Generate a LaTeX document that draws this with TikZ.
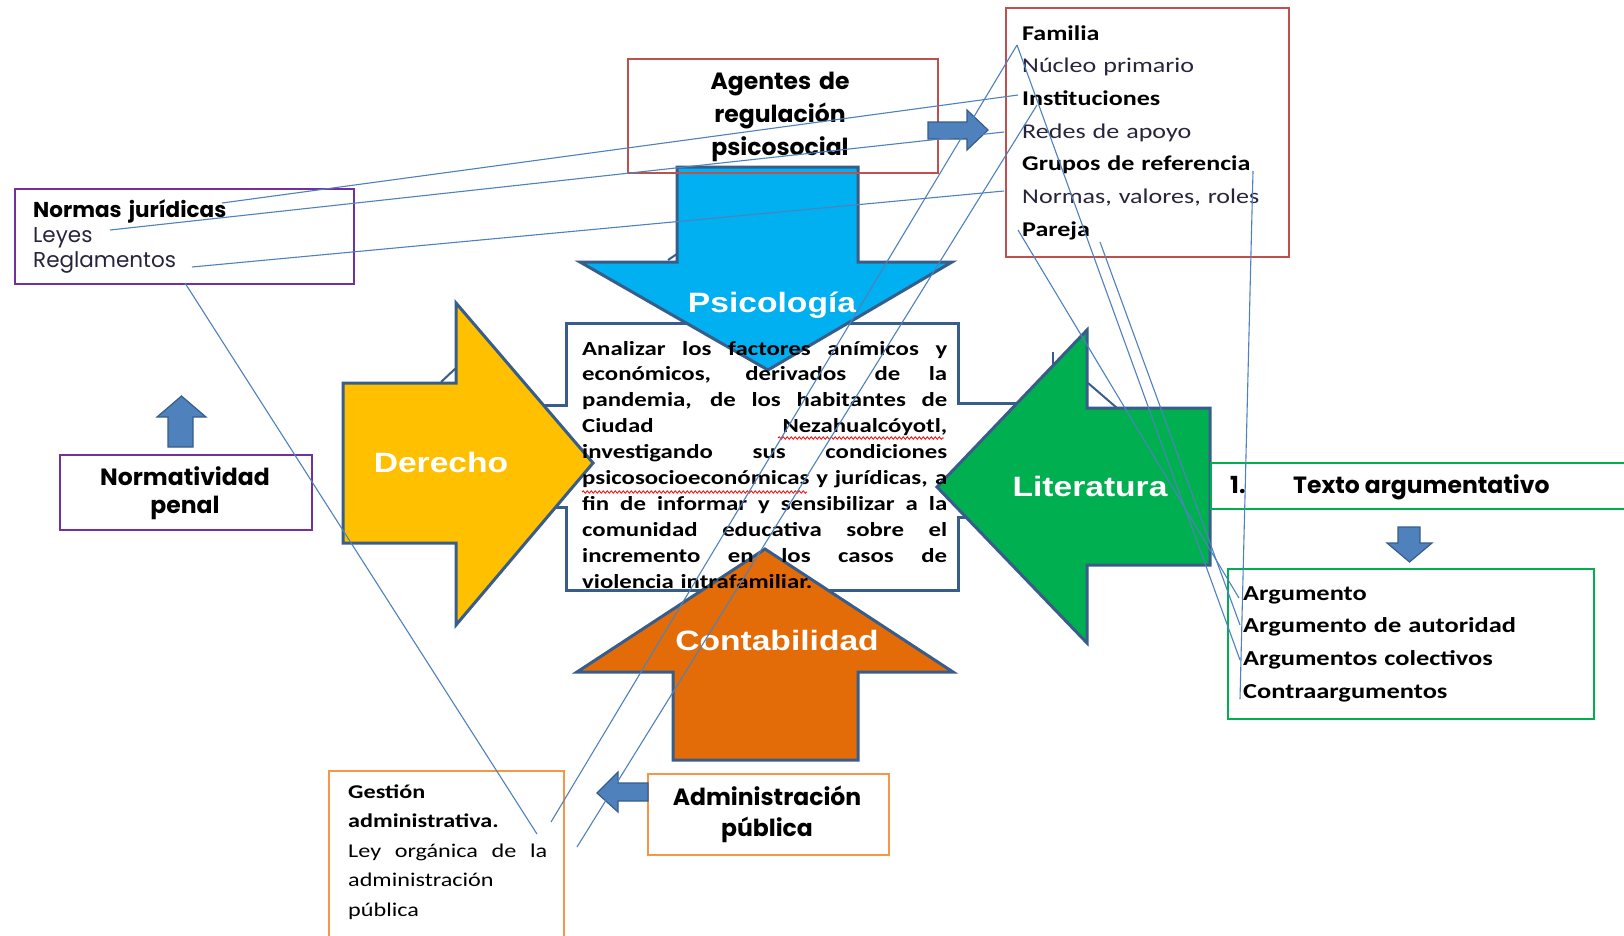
\documentclass[tikz,border=0pt]{standalone}
\usepackage{fontspec}
\setmainfont{Carlito}
\newfontfamily\calfont[FakeStretch=1.24]{Carlito}
\newfontfamily\gothfont{Poppins}
\newfontfamily\arialfont[FakeStretch=1.2]{Liberation Sans}
\usetikzlibrary{decorations.pathmorphing}
\definecolor{arrowedge}{RGB}{56,93,138}
\definecolor{steel}{RGB}{79,129,189}
\definecolor{connblue}{RGB}{79,129,189}
\definecolor{psicofill}{RGB}{0,176,240}
\definecolor{derfill}{RGB}{255,192,0}
\definecolor{litfill}{RGB}{0,176,80}
\definecolor{contfill}{RGB}{227,108,9}
\definecolor{redbox}{RGB}{192,80,77}
\definecolor{purplebox}{RGB}{112,48,160}
\definecolor{orangebox}{RGB}{247,150,70}
\definecolor{greenbox}{RGB}{0,176,80}
\definecolor{softtext}{RGB}{40,36,60}
\newcommand{\jline}[2]{\makebox[#1][s]{\spaceskip=0.25em plus 1fil\relax #2}}
\begin{document}
\begin{tikzpicture}[x=1pt,y=-1pt,
  bigarrow/.style={draw=arrowedge, line width=3pt, line join=miter},
  smallarrow/.style={fill=steel, draw=arrowedge, line width=1.2pt, line join=miter},
  conn/.style={draw=connblue, line width=1.1pt},
  artifact/.style={draw=arrowedge, line width=2pt},
  boxbase/.style={rectangle, anchor=north west, inner sep=0, line width=1.6pt},
  redframe/.style={boxbase, draw=redbox},
  purpleframe/.style={boxbase, draw=purplebox},
  orangeframe/.style={boxbase, draw=orangebox},
  greenframe/.style={boxbase, draw=greenbox},
  biglabel/.style={text=white, inner sep=0, anchor=base, font=\arialfont\bfseries\fontsize{28}{30}\selectfont},
  calblock/.style={inner sep=0, anchor=base west, align=left},
  gothlabel/.style={inner sep=0, font=\gothfont\bfseries\fontsize{23.5}{32}\selectfont},
  spellmark/.style={draw=red, line width=0.8pt, decorate, decoration={snake, amplitude=1.2pt, segment length=4pt}}
]
\useasboundingbox (0,0) rectangle (1624,935);
\fill[white] (0,0) rectangle (1624,935);

% central box with side protrusions
\filldraw[fill=white, draw=arrowedge, line width=3pt, line join=miter]
  (566,323) -- (958,323) -- (958,403) -- (1040,403) -- (1040,517) -- (958,517)
  -- (958,590) -- (566,590) -- (566,507) -- (530,507) -- (530,405) -- (566,405) -- cycle;

% big arrows
\filldraw[bigarrow, fill=psicofill] (677,167) -- (858,167) -- (858,262) -- (952,262)
  -- (768,370) -- (580,262) -- (677,262) -- cycle;
\filldraw[bigarrow, fill=derfill] (343,383) -- (456,383) -- (456,303) -- (593,463)
  -- (456,625) -- (456,543) -- (343,543) -- cycle;
\filldraw[bigarrow, fill=litfill] (1210,408) -- (1087,408) -- (1087,330) -- (937,487)
  -- (1087,643) -- (1087,565) -- (1210,565) -- cycle;
\filldraw[bigarrow, fill=contfill] (673,760) -- (673,672) -- (577,672) -- (765,549)
  -- (953,672) -- (858,672) -- (858,760) -- cycle;

% small outline remnants behind the big arrows
\draw[artifact] (441,382) -- (456,368);
\draw[artifact] (1053,352) -- (1053,367);
\draw[artifact] (1088,383) -- (1117,408);
\draw[artifact] (668,260) -- (677,254);

% big arrow labels
\node[biglabel] (psico) at (772,312) {Psicología};
\node[biglabel] (derecho) at (441,472) {Derecho};
\node[biglabel] (litera) at (1090,496) {Literatura};
\node[biglabel] (conta) at (777,650) {Contabilidad};

% central text
\node[calblock, text width=365pt, font=\calfont\bfseries\fontsize{20}{25.9}\selectfont] (objtext) at (582,355) {%
\jline{365pt}{Analizar los factores anímicos y}\\
\jline{365pt}{económicos, derivados de la}\\
\jline{365pt}{pandemia, de los habitantes de}\\
\jline{365pt}{Ciudad Nezahualcóyotl,}\\
\jline{365pt}{investigando sus condiciones}\\
\jline{365pt}{psicosocioeconómicas y jurídicas, a}\\
\jline{365pt}{fin de informar y sensibilizar a la}\\
\jline{365pt}{comunidad educativa sobre el}\\
\jline{365pt}{incremento en los casos de}\\
\mbox{violencia intrafamiliar.}};
\draw[spellmark] (778,438) -- (944,438);
\draw[spellmark] (582,492) -- (807,492);

% Agentes de regulación psicosocial
\node[redframe, minimum width=310pt, minimum height=114pt] (agbox) at (627,58) {};
\node[gothlabel, anchor=base, align=center, text width=300pt, font=\gothfont\bfseries\fontsize{23.5}{33}\selectfont] (agtext) at (780,89)
  {Agentes de\\ regulación\\ psicosocial};
\filldraw[smallarrow] (928,122) -- (967,122) -- (967,110) -- (988,130) -- (967,150) -- (967,139) -- (928,139) -- cycle;

% Familia box
\node[redframe, minimum width=283pt, minimum height=249pt] (fambox) at (1005,7) {};
\node[calblock, text width=260pt, font=\calfont\fontsize{21}{32.7}\selectfont] (famtext) at (1022,40) {%
\textbf{Familia}\\
\textcolor{softtext}{Núcleo primario}\\
\textbf{Instituciones}\\
\textcolor{softtext}{Redes de apoyo}\\
\textbf{Grupos de referencia}\\
\textcolor{softtext}{Normas, valores, roles}\\
\textbf{Pareja}};

% Normas jurídicas box
\node[purpleframe, minimum width=339pt, minimum height=95pt] (normbox) at (14,188) {};
\node[calblock, text width=320pt, font=\gothfont\fontsize{21.5}{25}\selectfont] (normtext) at (33,217) {%
\textbf{Normas jurídicas}\\
\textcolor{softtext}{Leyes}\\
\textcolor{softtext}{Reglamentos}};

% Normatividad penal
\node[purpleframe, minimum width=252pt, minimum height=75pt] (npbox) at (59,454) {};
\node[gothlabel, anchor=base, align=center, text width=250pt, font=\gothfont\bfseries\fontsize{23.5}{28}\selectfont] (nptext) at (185,485)
  {Normatividad\\ penal};
\filldraw[smallarrow] (168,447) -- (168,417) -- (157,417) -- (181.5,396) -- (206,417) -- (193,417) -- (193,447) -- cycle;

% Texto argumentativo
\draw[greenbox, line width=1.6pt] (1624,463) -- (1211,463) -- (1211,509) -- (1624,509);
\node[gothlabel, anchor=base west] (num) at (1230,493) {1.};
\node[gothlabel, anchor=base west] (textarg) at (1293,493) {Texto argumentativo};
\filldraw[smallarrow] (1398,527) -- (1420,527) -- (1420,543) -- (1432,543) -- (1409.5,562) -- (1387,543) -- (1398,543) -- cycle;

% Argumento box
\node[greenframe, minimum width=366pt, minimum height=150pt] (argbox) at (1227,568) {};
\node[calblock, text width=350pt, font=\calfont\bfseries\fontsize{21.3}{32.8}\selectfont] (argtext) at (1243,600) {%
Argumento\\
Argumento de autoridad\\
Argumentos colectivos\\
Contraargumentos};

% Administración pública
\node[orangeframe, minimum width=241pt, minimum height=81pt] (adbox) at (647,773) {};
\node[gothlabel, anchor=base, align=center, text width=236pt, font=\gothfont\bfseries\fontsize{23.5}{31}\selectfont] (adtext) at (767,805)
  {Administración\\ pública};
\filldraw[smallarrow] (648,783) -- (618,783) -- (618,772) -- (597,793) -- (618,812) -- (618,801) -- (648,801) -- cycle;

% Gestión administrativa box (runs past the lower edge)
\draw[orangebox, line width=1.6pt] (329,940) -- (329,771) -- (564,771) -- (564,940);
\node[calblock, text width=199pt, font=\calfont\fontsize{19.5}{29.5}\selectfont] (gestext) at (348,798) {%
\textbf{Gestión}\\
\textbf{administrativa.}\\
\jline{199pt}{Ley orgánica de la}\\
administración\\
pública};

% connectors
\coordinate (njur) at (222,203);
\coordinate (leyes) at (110,230);
\coordinate (regla) at (192,267);
\coordinate (normbot) at (185,283);
\coordinate (inst) at (1018,95);
\coordinate (redes) at (1004,132);
\coordinate (nvr) at (1004,191);
\coordinate (gesA) at (537,834);
\coordinate (gesB) at (551,822);
\coordinate (gesC) at (577,847);
\coordinate (famapex) at (1017,45);
\coordinate (instB) at (1037,105);
\coordinate (parL) at (1018,230);
\coordinate (parR) at (1100,242);
\coordinate (grupos) at (1253,171);
\coordinate (arg1) at (1239,598);
\coordinate (arg2) at (1240,625);
\coordinate (arg3) at (1240,660);
\coordinate (arg4) at (1240,699);

\draw[conn] (njur) -- (inst);
\draw[conn] (leyes) -- (redes);
\draw[conn] (regla) -- (nvr);
\draw[conn] (normbot) -- (gesA);
\draw[conn] (gesB) -- (famapex);
\draw[conn] (famapex) -- (arg3);
\draw[conn] (gesC) -- (instB);
\draw[conn] (parL) -- (arg1);
\draw[conn] (parR) -- (arg2);
\draw[conn] (grupos) -- (arg4);
\end{tikzpicture}
\end{document}
